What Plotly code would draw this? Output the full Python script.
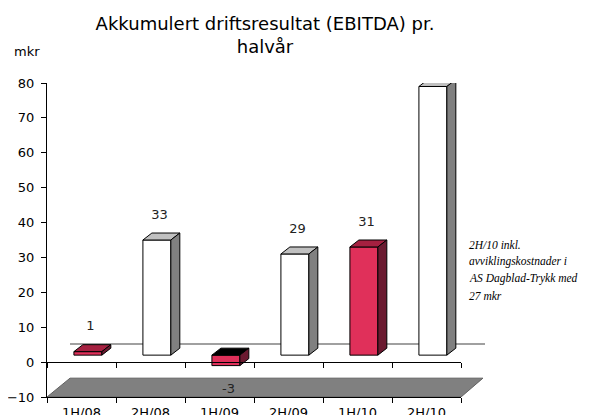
import plotly.graph_objects as go

# ---- data ----
categories = ["1H/08", "2H/08", "1H/09", "2H/09", "1H/10", "2H/10"]
values = [1, 33, -3, 29, 31, 77]
value_labels = ["1", "33", "-3", "29", "31", "77"]
y_ticks = [-10, 0, 10, 20, 30, 40, 50, 60, 70, 80]
note_lines = ["2H/10 inkl.", "avviklingskostnader i", "AS Dagblad-Trykk med", "27 mkr"]

# ---- style ----
front_colors = ["#e0305a", "#ffffff", "#e0305a", "#ffffff", "#e0305a", "#ffffff"]
top_colors = ["#a52040", "#c0c0c0", "#000000", "#c0c0c0", "#a52040", "#c0c0c0"]
side_colors = ["#6b1a30", "#808080", "#6b1a30", "#808080", "#6b1a30", "#808080"]
BASE = 2.0      # 3D floor lift (y units)
DX = 0.13       # depth in x (category units)
DY = 2.0        # depth in y units
OFF = -0.11     # bar left edge relative to category centre
W = 0.405       # bar width

pos = list(range(len(categories)))
FONT = "DejaVu Sans, Verdana, sans-serif"
FIG_W, FIG_H = 583, 407   # page has an 8px body margin

fig = go.Figure()

# front faces
fig.add_trace(go.Bar(
    x=pos, y=values, base=[BASE] * len(values), offset=OFF, width=W,
    marker=dict(color=front_colors, line=dict(color="black", width=1)),
    hoverinfo="skip", showlegend=False,
))

# top & side faces
for p, v, tc, sc in zip(pos, values, top_colors, side_colors):
    xl, xr = p + OFF, p + OFF + W
    lo, hi = min(BASE, BASE + v), max(BASE, BASE + v)
    fig.add_trace(go.Scatter(
        x=[xl, xl + DX, xr + DX, xr, xl], y=[hi, hi + DY, hi + DY, hi, hi],
        fill="toself", fillcolor=tc, mode="lines",
        line=dict(color="black", width=1), hoverinfo="skip", showlegend=False))
    fig.add_trace(go.Scatter(
        x=[xr, xr + DX, xr + DX, xr, xr], y=[lo, lo + DY, hi + DY, hi, lo],
        fill="toself", fillcolor=sc, mode="lines",
        line=dict(color="black", width=1), hoverinfo="skip", showlegend=False))

# value labels
lab_y = [v + BASE + 7 if v >= 0 else v - 5 for v in values]
fig.add_trace(go.Scatter(
    x=[p + 0.13 for p in pos], y=lab_y, text=value_labels, mode="text",
    textfont=dict(family=FONT, size=13, color="#222222"),
    xaxis="x2", hoverinfo="skip", showlegend=False))

# floor decoration (x in paper units so it can reach past the axis end)
fig.add_shape(type="path", xref="paper", yref="y", layer="below",
              path="M 0,-10 L 0.0556,-4.6 L 1.053,-4.6 L 1,-10 Z",
              fillcolor="#808080", line=dict(color="#606060", width=1))
fig.add_shape(type="line", xref="paper", yref="y", layer="below",
              x0=0.0556, x1=1.058, y0=5.2, y1=5.2,
              line=dict(color="#808080", width=1.5))

annotations = [
    dict(text="mkr", xref="paper", yref="paper", x=-0.085, y=1.099,
         xanchor="left", yanchor="middle", showarrow=False,
         font=dict(family=FONT, size=13, color="black")),
]
for i, line in enumerate(note_lines):
    annotations.append(dict(
        text=line, xref="paper", yref="paper", x=1.016, y=0.484 - i * 0.054,
        xanchor="left", yanchor="middle", align="left", showarrow=False, borderpad=0,
        font=dict(family="Liberation Serif, Times New Roman, serif", size=11.5,
                  color="black", style="italic")))

fig.update_layout(
    width=FIG_W, height=FIG_H,
    margin=dict(l=39, r=130, t=75, b=18),
    paper_bgcolor="white", plot_bgcolor="rgba(0,0,0,0)",
    font=dict(family=FONT, size=13, color="black"),
    title=dict(text="Akkumulert driftsresultat (EBITDA) pr.<br>halvår",
               x=257 / FIG_W, xanchor="center", xref="container",
               y=1 - 21.5 / FIG_H, yanchor="top",
               font=dict(family=FONT, size=18, color="black"), automargin=False),
    xaxis=dict(range=[-0.5, 5.5], tickvals=pos, ticktext=categories,
               ticks="outside", ticklen=3, tickcolor="rgba(0,0,0,0)",
               minor=dict(tickvals=[p - 0.5 for p in pos] + [5.5], ticks="outside",
                          ticklen=5, tickcolor="black"),
               showline=True, linecolor="black", linewidth=1, showgrid=False,
               zeroline=False, tickfont=dict(size=13), layer="above traces",
               automargin=False),
    xaxis2=dict(range=[-0.5, 5.5], overlaying="x", anchor="free", position=10 / 90,
                side="bottom", tickvals=[p - 0.5 for p in pos] + [5.5],
                showticklabels=False, ticks="outside", ticklen=5, tickcolor="black",
                showline=True, linecolor="black", linewidth=1, showgrid=False,
                zeroline=False, layer="above traces", automargin=False),
    yaxis=dict(range=[-10, 80], tickvals=y_ticks, ticks="outside", ticklen=5,
               tickcolor="black", showline=True, linecolor="black", linewidth=1,
               showgrid=False, zeroline=False, tickfont=dict(size=13),
               ticklabelstandoff=4, automargin=False),
    annotations=annotations,
)

fig.write_html("out.html")
